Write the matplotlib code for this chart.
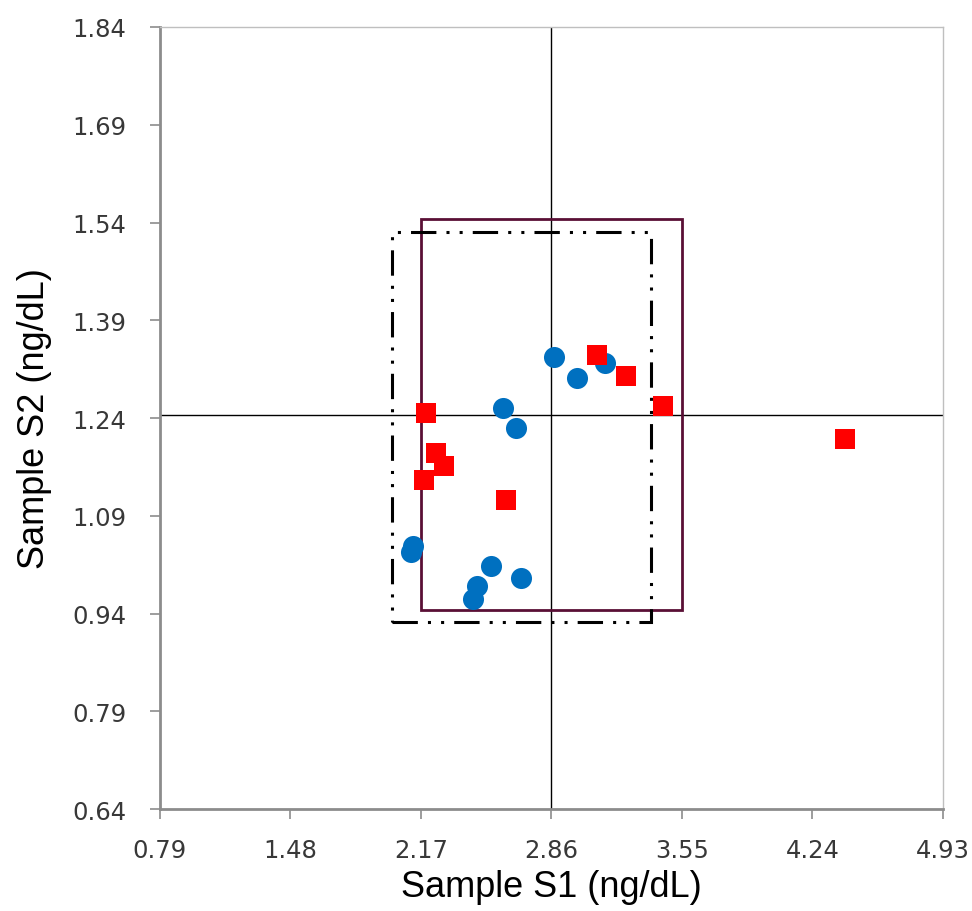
import numpy as np
import matplotlib.pyplot as plt
from matplotlib.patches import Rectangle

# blue circles
s1_blue = [2.873, 2.993, 3.144, 2.602, 2.674, 2.129, 2.115, 2.542, 2.700, 2.468, 2.446]
s2_blue = [1.334, 1.302, 1.324, 1.255, 1.225, 1.044, 1.035, 1.013, 0.994, 0.983, 0.962]
# red squares
s1_red = [3.102, 3.257, 3.451, 2.196, 2.248, 2.293, 2.186, 2.619, 4.412]
s2_red = [1.337, 1.305, 1.258, 1.248, 1.186, 1.166, 1.145, 1.114, 1.208]

xticks = [0.79, 1.48, 2.17, 2.86, 3.55, 4.24, 4.93]
yticks = [0.64, 0.79, 0.94, 1.09, 1.24, 1.39, 1.54, 1.69, 1.84]

# crosshair and boxes (centre, half width, half height)
cross_x, cross_y = 2.86, 1.245
box_solid = (2.86, 1.245, 0.69, 0.30)
box_dash = (2.70, 1.226, 0.685, 0.299)

fig = plt.figure(figsize=(9.72, 9.12), dpi=100)
ax = fig.add_axes([0.1646, 0.1118, 0.8054, 0.8575])

ax.axvline(cross_x, color='black', lw=1.0, zorder=1)
ax.axhline(cross_y, color='black', lw=1.0, zorder=1)

cx, cy, hw, hh = box_solid
ax.add_patch(Rectangle((cx - hw, cy - hh), 2 * hw, 2 * hh, fill=False,
                       edgecolor='#5a0f35', lw=2.0, zorder=2))
cx, cy, hw, hh = box_dash
ax.add_patch(Rectangle((cx - hw, cy - hh), 2 * hw, 2 * hh, fill=False,
                       edgecolor='black', lw=2.2, zorder=2, capstyle='butt',
                       linestyle=(0, (8.3, 3.3, 1, 3.3, 1, 3.3))))

ax.scatter(s1_blue, s2_blue, s=230, marker='o', color='#0070c0', zorder=3, linewidths=0)
ax.scatter(s1_red, s2_red, s=200, marker='s', color='#ff0000', zorder=3, linewidths=0)

ax.set_xlim(0.79, 4.93)
ax.set_ylim(0.64, 1.84)
ax.set_xticks(xticks)
ax.set_yticks(yticks)
ax.set_xticklabels(['%.2f' % v for v in xticks])
ax.set_yticklabels(['%.2f' % v for v in yticks])
ax.tick_params(direction='out', length=7, width=1.2, color='#8c8c8c',
               labelsize=17.5, labelcolor='#383838')
ax.tick_params(axis='x', pad=14)
ax.tick_params(axis='y', pad=17)
for sp in ax.spines.values():
    sp.set_color('#bfbfbf')
    sp.set_linewidth(1.0)
ax.spines['left'].set_color('#8c8c8c')
ax.spines['left'].set_linewidth(2.0)
ax.spines['bottom'].set_color('#8c8c8c')
ax.spines['bottom'].set_linewidth(2.0)

lab_font = dict(family=['Liberation Sans', 'DejaVu Sans'], size=26, color='black')
ax.set_xlabel('Sample S1 (ng/dL)', labelpad=5, **lab_font)
ax.set_ylabel('Sample S2 (ng/dL)', labelpad=15, **lab_font)

fig.savefig('out.png', dpi=100)
